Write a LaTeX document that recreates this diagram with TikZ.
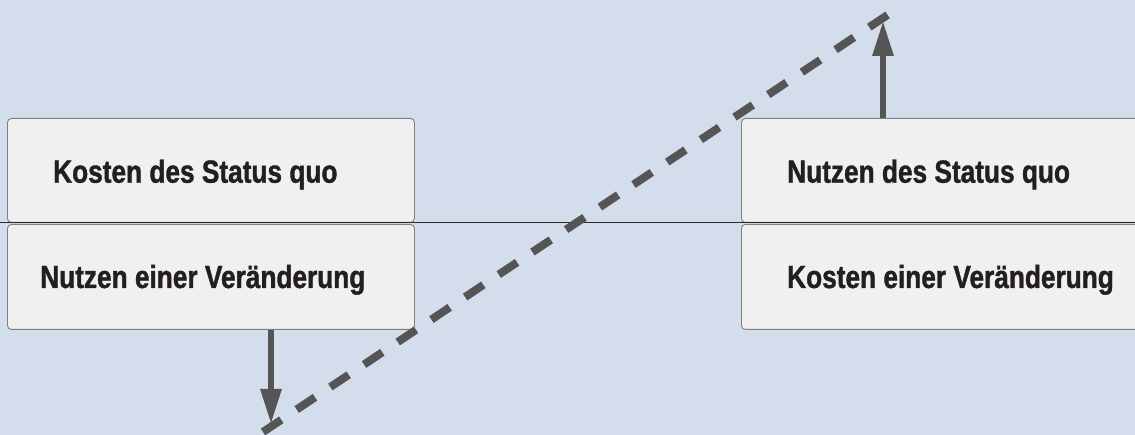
\documentclass[tikz,border=0pt]{standalone}
\usepackage{fontspec}
\newfontfamily\condfont[FakeStretch=0.82,FakeBold=1.2]{Liberation Sans}
\usetikzlibrary{arrows.meta}
\definecolor{bgc}{HTML}{D3DDEB}
\definecolor{boxfill}{HTML}{F0F0F0}
\definecolor{boxline}{HTML}{808080}
\definecolor{darkg}{HTML}{555555}
\definecolor{txt}{HTML}{231F20}
\definecolor{divc}{HTML}{2B2B2B}
\begin{document}
\begin{tikzpicture}[x=1pt,y=-1pt,
  panel/.style={draw=boxline,fill=boxfill,line width=0.9pt,rounded corners=4pt},
  lbl/.style={anchor=base west,inner sep=0pt,text=txt,font=\condfont\bfseries\fontsize{32}{34}\selectfont},
  dashline/.style={draw=darkg,line width=8pt,dash pattern=on 22pt off 18.5pt},
  arr/.style={draw=darkg,line width=6pt,-{Triangle[length=35pt,width=20pt]}}]
\fill[bgc] (0,0) rectangle (1135,435);
\useasboundingbox (0,0) rectangle (1135,435);
% boxes
\node[panel,minimum width=407pt,minimum height=104pt,anchor=north west,inner sep=0pt] (lt) at (7,118) {};
\node[panel,minimum width=407pt,minimum height=105pt,anchor=north west,inner sep=0pt] (lb) at (7,224) {};
\node[panel,minimum width=410pt,minimum height=104pt,anchor=north west,inner sep=0pt] (rt) at (741,118) {};
\node[panel,minimum width=410pt,minimum height=105pt,anchor=north west,inner sep=0pt] (rb) at (741,224) {};
% divider
\coordinate (dl) at (0,222.5);
\coordinate (dr) at (1135,222.5);
\draw[line width=1.8pt,color=divc] (dl) -- (dr);
% labels
\node[lbl] (t1) at (53,182.7) {Kosten des Status quo};
\node[lbl] (t2) at (40,288) {Nutzen einer Veränderung};
\node[lbl] (t3) at (787,182.7) {Nutzen des Status quo};
\node[lbl] (t4) at (787,288) {Kosten einer Veränderung};
% dashed line
\coordinate (d0) at (263,432);
\coordinate (d1) at (889,14);
\draw[dashline] (d0) -- (d1);
% arrows
\coordinate (a1) at (271,424);
\coordinate (a2) at (883,21);
\draw[arr] (lb.south -| a1) -- (a1);
\draw[arr] (rt.north -| a2) -- (a2);
\end{tikzpicture}
\end{document}
